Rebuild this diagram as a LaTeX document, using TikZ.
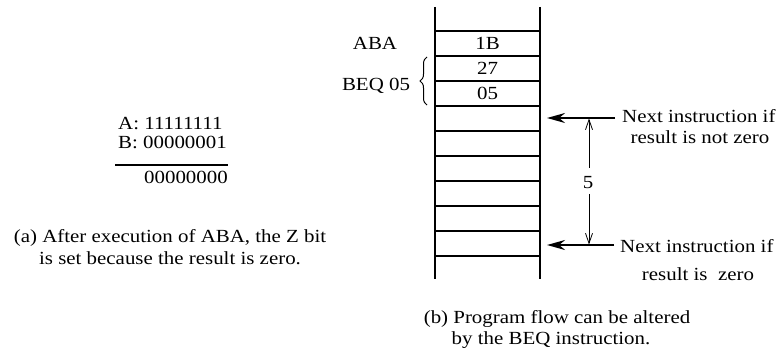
\documentclass[tikz,border=0pt]{standalone}
\usepackage{fontspec}
\usepackage{graphicx}
\setmainfont{Liberation Serif}
\newcommand{\stretchtxt}[1]{\scalebox{1.13}[1]{#1}}
\usetikzlibrary{arrows.meta,decorations.pathreplacing}
\begin{document}
\begin{tikzpicture}[x=1pt,y=-1pt,
  txt/.style={inner sep=0pt,anchor=base,font=\fontsize{18.5}{22}\selectfont},
  txtw/.style={txt,anchor=base west},
  txte/.style={txt,anchor=base east},
  memline/.style={line width=1.5pt},
  bigarrow/.style={line width=2pt,-{Stealth[length=18pt,width=10pt]}},
  dimline/.style={line width=0.8pt,-{Straight Barb[length=10pt,width=7pt]}},
  bracestyle/.style={line width=1pt,decorate,decoration={brace,amplitude=7pt}}]
\useasboundingbox (0,0) rectangle (783,355);
% memory column
\coordinate (lt) at (435,7); \coordinate (lb) at (435,279);
\coordinate (rt) at (540,7); \coordinate (rb) at (540,279);
\draw[memline] (lt) -- (lb);
\draw[memline] (rt) -- (rb);
\foreach \y in {31,56,81,106,131,156,181,206,231,256}
  \draw[memline] (435,\y) -- (540,\y);
\node[txt] (c1) at (487.5,50) {\stretchtxt{1B}};
\node[txt] (c2) at (487.5,75) {\stretchtxt{27}};
\node[txt] (c3) at (487.5,100) {\stretchtxt{05}};
\node[txt] (aba) at (375,50) {\stretchtxt{ABA}};
\node[txt] (beq) at (376,91) {\stretchtxt{BEQ 05}};
\coordinate (brb) at (427,105); \coordinate (brt) at (427,57);
\draw[bracestyle] (brb) -- (brt);
% arrows
\coordinate (a1s) at (615,118); \coordinate (a1e) at (547,118);
\coordinate (a2s) at (614,245); \coordinate (a2e) at (547,245);
\draw[bigarrow] (a1s) -- (a1e);
\draw[bigarrow] (a2s) -- (a2e);
\node[txt] (five) at (588,189) {\stretchtxt{5}};
\coordinate (d1) at (589,118.5); \coordinate (d2) at (589,244.5);
\draw[dimline] (589,168) -- (d1);
\draw[dimline] (589,194) -- (d2);
\node[txtw] (n1) at (622,123) {\stretchtxt{Next instruction if}};
\node[txt] (r1) at (700,144) {\stretchtxt{result is not zero}};
\node[txtw] (n2) at (620,252) {\stretchtxt{Next instruction if}};
\node[txt] (r2) at (698,280) {\stretchtxt{result is\ \ zero}};
\node[txt] (cb1) at (557,323) {\stretchtxt{(b) Program flow can be altered}};
\node[txt] (cb2) at (551,344) {\stretchtxt{by the BEQ instruction.}};
% left part
\node[txtw] (ra) at (118,130) {\stretchtxt{A: 11111111}};
\node[txtw] (rbb) at (118,149) {\stretchtxt{B: 00000001}};
\coordinate (u1) at (115,165); \coordinate (u2) at (228,165);
\draw[line width=1.5pt] (u1) -- (u2);
\node[txte] (res) at (228,184) {\stretchtxt{00000000}};
\node[txt] (ca1) at (170,242) {\stretchtxt{(a) After execution of ABA, the Z bit}};
\node[txt] (ca2) at (170,264) {\stretchtxt{is set because the result is zero.}};
\end{tikzpicture}
\end{document}
